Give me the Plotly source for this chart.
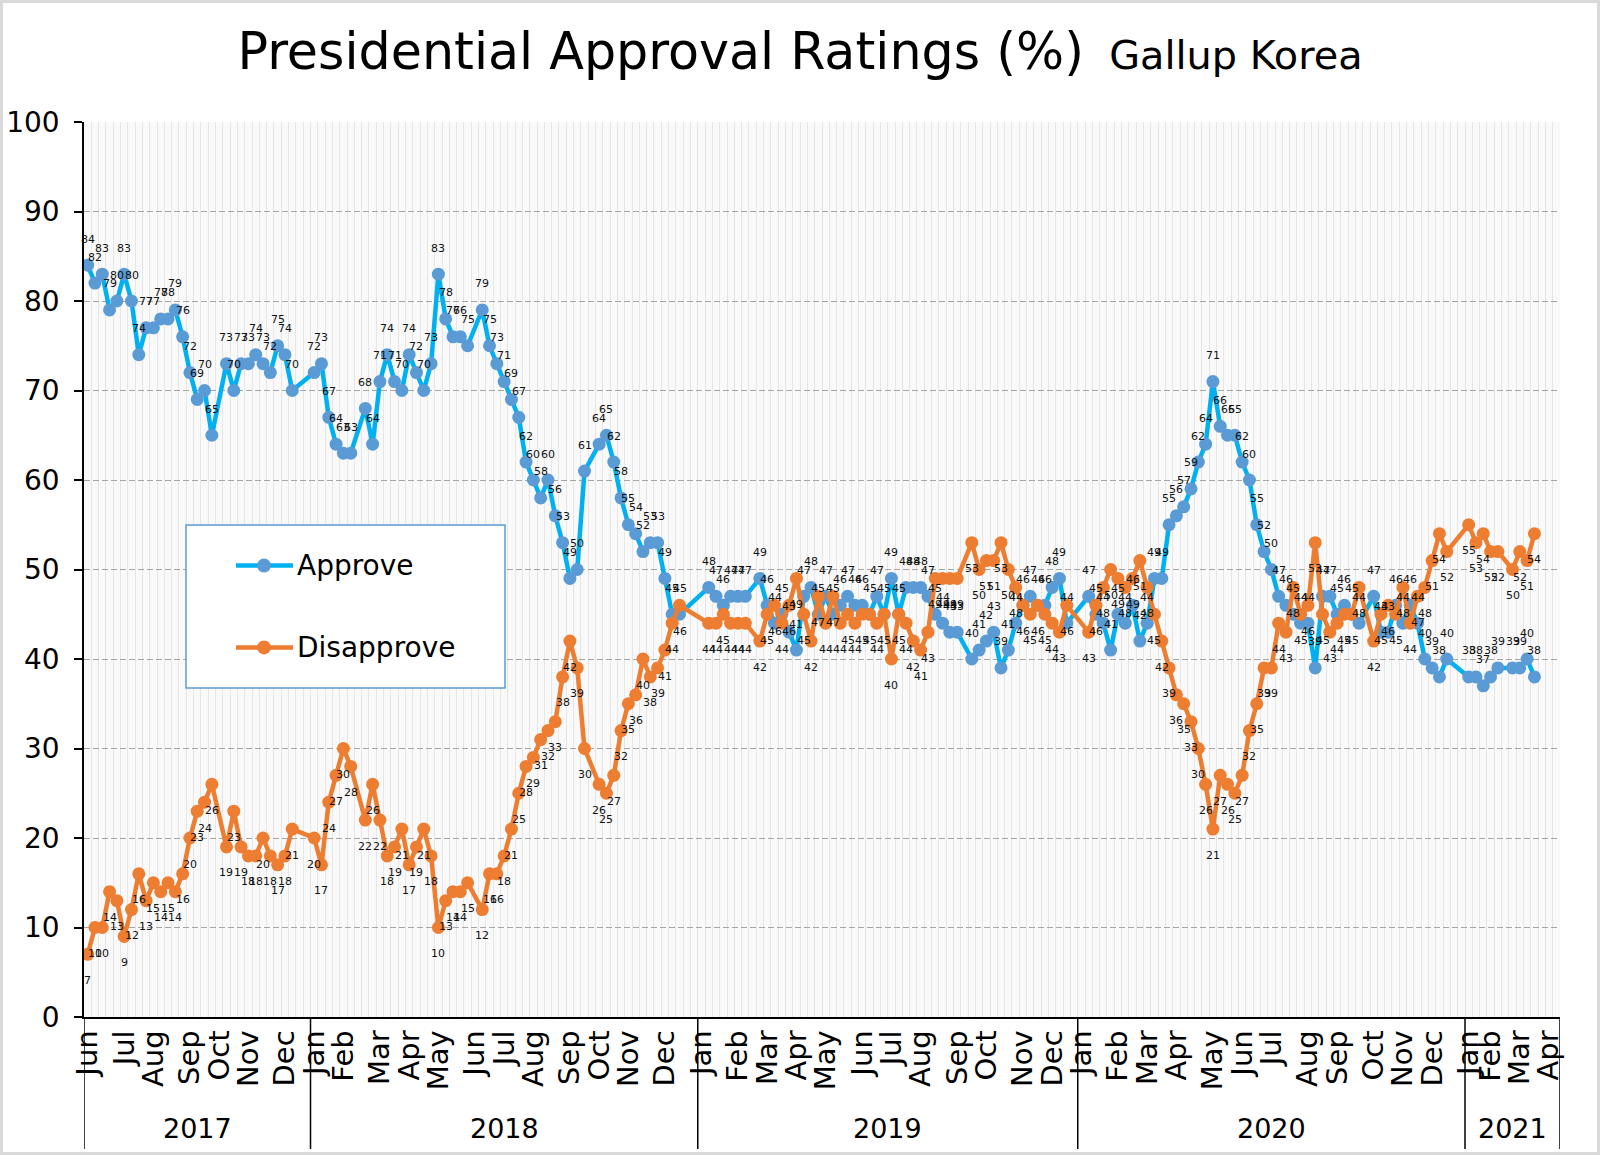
import plotly.graph_objects as go

# ---------------- data (week index = poll week slot since 2017 June wk1) -------------
week = [0,1,2,3,4,5,6,7,8,9,10,11,12,13,14,15,16,17,19,20,21,22,23,24,25,26,27,28,
        31,32,33,34,35,36,38,39,40,41,42,43,44,45,46,47,48,49,50,51,52,54,55,56,57,58,59,
        60,61,62,63,64,65,66,67,68,70,71,72,73,74,75,76,77,78,79,80,81,
        85,86,87,88,89,90,92,93,94,95,96,97,98,99,100,101,102,103,104,105,106,107,108,109,
        110,111,112,113,114,115,116,117,118,119,121,122,123,124,125,126,127,128,129,130,
        131,132,133,134,
        137,138,139,140,141,142,143,144,145,146,147,148,149,150,151,152,153,154,155,156,157,
        158,159,160,161,162,163,164,165,166,167,168,169,170,171,172,173,174,176,177,178,179,
        180,181,182,183,184,185,186,
        189,190,191,192,193,195,196,197,198]
approve = [84,82,83,79,80,83,80,74,77,77,78,78,79,76,72,69,70,65,73,70,73,73,74,73,72,75,74,70,
           72,73,67,64,63,63,68,64,71,74,71,70,74,72,70,73,83,78,76,76,75,79,75,73,71,69,67,
           62,60,58,60,56,53,49,50,61,64,65,62,58,55,54,52,53,53,49,45,45,
           48,47,46,47,47,47,49,46,44,45,43,41,47,48,45,47,45,46,47,46,46,45,47,45,
           49,45,48,48,48,47,45,44,43,43,40,41,42,43,39,41,44,46,47,46,
           46,48,49,44,
           47,45,44,41,45,44,46,42,44,49,49,55,56,57,59,62,64,71,66,65,65,
           62,60,55,52,50,47,46,45,44,44,39,47,47,45,46,45,44,47,43,43,46,
           44,46,44,40,39,38,40,
           38,38,37,38,39,39,39,40,38]
disapprove = [7,10,10,14,13,9,12,16,13,15,14,15,14,16,20,23,24,26,19,23,19,18,18,20,18,17,18,21,
              20,17,24,27,30,28,22,26,22,18,19,21,17,19,21,18,10,13,14,14,15,12,16,16,18,21,25,
              28,29,31,32,33,38,42,39,30,26,25,27,32,35,36,40,38,39,41,44,46,
              44,44,45,44,44,44,42,45,46,44,46,49,45,42,47,44,47,44,45,44,45,45,44,45,
              40,45,44,42,41,43,49,49,49,49,53,50,51,51,53,50,48,46,45,46,
              45,44,43,46,
              43,46,48,50,49,48,49,51,48,45,42,39,36,35,33,30,26,21,27,26,25,
              27,32,35,39,39,44,43,48,45,46,53,45,43,44,45,45,48,42,45,46,45,
              48,44,47,48,51,54,52,
              55,53,54,52,52,50,52,51,54]

month_week = [0,5,9,14,18,22,27,
              31,35,40,44,48,53,57,61,66,70,74,79,
              84,89,93,97,101,106,110,114,119,123,128,132,
              136,141,145,149,154,158,162,167,171,176,180,184,
              189,192,196,200]
month_text = ["Jun","Jul","Aug","Sep","Oct","Nov","Dec",
              "Jan","Feb","Mar","Apr","May","Jun","Jul","Aug","Sep","Oct","Nov","Dec",
              "Jan","Feb","Mar","Apr","May","Jun","Jul","Aug","Sep","Oct","Nov","Dec",
              "Jan","Feb","Mar","Apr","May","Jun","Jul","Aug","Sep","Oct","Nov","Dec",
              "Jan","Feb","Mar","Apr"]
years = ["2017","2018","2019","2020","2021"]
year_first_week = [0,31,84,136,189]
n_weeks = 202

# ---------------- layout geometry ----------------
W, H = 1600, 1155
L, R, T, B = 84, 40, 122, 138
PW, PH = W - L - R, H - T - B
FONT = "DejaVu Sans"
BLUE_LINE, BLUE_MK, ORANGE = "#00B0F0", "#5B9BD5", "#ED7D31"

def px(xp):
    return (xp - L) / PW

def py(yp):
    return (T + PH - yp) / PH

fig = go.Figure()
fig.add_trace(go.Scatter(x=week, y=approve, mode="lines+markers", name="Approve",
                         line=dict(color=BLUE_LINE, width=4.5),
                         marker=dict(color=BLUE_MK, size=13), showlegend=False))
fig.add_trace(go.Scatter(x=week, y=disapprove, mode="lines+markers", name="Disapprove",
                         line=dict(color=ORANGE, width=4.5),
                         marker=dict(color=ORANGE, size=13), showlegend=False))

ann = []
for xv, yv in zip(week, approve):
    ann.append(dict(x=xv, y=yv, text=str(yv), showarrow=False, yshift=26,
                    xanchor="center", yanchor="middle",
                    font=dict(family=FONT, size=11, color="#111")))
for xv, yv in zip(week, disapprove):
    ann.append(dict(x=xv, y=yv, text=str(yv), showarrow=False, yshift=-26,
                    xanchor="center", yanchor="middle",
                    font=dict(family=FONT, size=11, color="#111")))

shapes = []
# year separators and year labels
bounds = [w - 0.5 for w in year_first_week] + [n_weeks - 0.5]
for b in bounds:
    shapes.append(dict(type="line", xref="x", yref="paper", x0=b, x1=b,
                       y0=0, y1=py(1149), line=dict(color="black", width=1.5)))
for i, yr in enumerate(years):
    ann.append(dict(x=(bounds[i] + bounds[i + 1]) / 2, xref="x", y=py(1128), yref="paper",
                    text=yr, showarrow=False, xanchor="center", yanchor="middle",
                    font=dict(family=FONT, size=27, color="black")))

# legend box (drawn)
shapes.append(dict(type="rect", xref="paper", yref="paper", x0=px(186), x1=px(505),
                   y0=py(525), y1=py(688), fillcolor="white",
                   line=dict(color=BLUE_MK, width=1.5), layer="above"))
for yl, lc, mc, lab in [(565.6, BLUE_LINE, BLUE_MK, "Approve"),
                        (647.4, ORANGE, ORANGE, "Disapprove")]:
    shapes.append(dict(type="line", xref="paper", yref="paper", x0=px(236), x1=px(293),
                       y0=py(yl), y1=py(yl), line=dict(color=lc, width=4.5), layer="above"))
    shapes.append(dict(type="circle", xref="paper", yref="paper", xsizemode="pixel",
                       ysizemode="pixel", xanchor=px(264), yanchor=py(yl),
                       x0=-7, x1=7, y0=-7, y1=7, fillcolor=mc, line=dict(width=0),
                       layer="above"))
    ann.append(dict(x=px(295), y=py(yl), xref="paper", yref="paper", text=lab,
                    xanchor="left", yanchor="middle", showarrow=False,
                    font=dict(family=FONT, size=28, color="black")))

# outer frame
shapes.append(dict(type="rect", xref="paper", yref="paper", x0=px(1.5), x1=px(W - 1.5),
                   y0=py(H - 1.5), y1=py(1.5), line=dict(color="#d9d9d9", width=3)))

fig.update_layout(
    width=W, height=H,
    margin=dict(l=L, r=R, t=T, b=B, autoexpand=False),
    paper_bgcolor="white", plot_bgcolor="#f9f9f9",
    font=dict(family=FONT, color="black"),
    title=dict(text="Presidential Approval Ratings (%)<span style='font-size:39.8px'>&nbsp;&nbsp;Gallup Korea</span>",
               x=0.5, xref="container", xanchor="center",
               y=1 - 51 / H, yref="container", yanchor="middle",
               font=dict(family=FONT, size=50.7, color="black")),
    annotations=ann, shapes=shapes,
    xaxis=dict(range=[-0.5, n_weeks - 0.5], tickmode="array", tickvals=month_week,
               ticktext=month_text, tickangle=-90, ticks="", showgrid=False,
               zeroline=False, showline=True, linecolor="black", linewidth=1.5,
               tickfont=dict(family=FONT, size=29, color="black"), automargin=False,
               minor=dict(tickmode="linear", tick0=-0.5, dtick=1, showgrid=True,
                          gridcolor="#e6e6e6", gridwidth=1, ticks="")),
    yaxis=dict(range=[0, 100], tickmode="linear", tick0=0, dtick=10, ticks="outside",
               ticklen=8, tickcolor="black", tickwidth=1.5, showline=True,
               linecolor="black", linewidth=1.5, zeroline=False, showgrid=True,
               gridcolor="#a6a6a6", gridwidth=1.3, griddash="6px,3px",
               tickfont=dict(family=FONT, size=28, color="black"), automargin=False,
               ticklabelstandoff=9),
)

fig.write_html("out.html", config={"displayModeBar": False},
               post_script="document.body.style.margin='0';document.body.style.overflow='hidden';")
